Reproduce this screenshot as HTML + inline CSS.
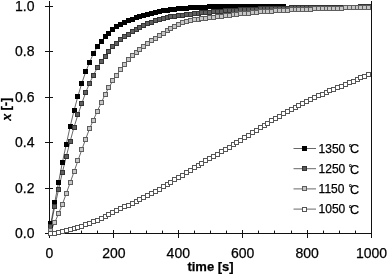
<!DOCTYPE html>
<html><head><meta charset="utf-8"><style>
html,body{margin:0;padding:0;background:#fff;width:387px;height:274px;overflow:hidden}
svg{display:block;will-change:transform}
</style></head><body>
<svg width="387" height="274" viewBox="0 0 387 274">

<g stroke="#111" stroke-width="1" shape-rendering="crispEdges">
<line x1="49.5" y1="1" x2="49.5" y2="234"/>
<line x1="371.5" y1="1" x2="371.5" y2="234"/>
<line x1="45" y1="233.5" x2="372" y2="233.5"/>
<line x1="45" y1="233.5" x2="53" y2="233.5"/>
<line x1="45" y1="188.5" x2="53" y2="188.5"/>
<line x1="45" y1="142.5" x2="53" y2="142.5"/>
<line x1="45" y1="97.5" x2="53" y2="97.5"/>
<line x1="45" y1="51.5" x2="53" y2="51.5"/>
<line x1="45" y1="6.5" x2="53" y2="6.5"/>
</g>
<g stroke="#111" stroke-width="1">
<line x1="49.50" y1="230" x2="49.50" y2="238"/>
<line x1="65.50" y1="230.6" x2="65.50" y2="233"/>
<line x1="81.50" y1="230.6" x2="81.50" y2="233"/>
<line x1="97.50" y1="230.6" x2="97.50" y2="233"/>
<line x1="113.50" y1="230" x2="113.50" y2="238"/>
<line x1="130.50" y1="230.6" x2="130.50" y2="233"/>
<line x1="146.50" y1="230.6" x2="146.50" y2="233"/>
<line x1="162.50" y1="230.6" x2="162.50" y2="233"/>
<line x1="178.50" y1="230" x2="178.50" y2="238"/>
<line x1="194.50" y1="230.6" x2="194.50" y2="233"/>
<line x1="210.50" y1="230.6" x2="210.50" y2="233"/>
<line x1="226.50" y1="230.6" x2="226.50" y2="233"/>
<line x1="242.50" y1="230" x2="242.50" y2="238"/>
<line x1="258.50" y1="230.6" x2="258.50" y2="233"/>
<line x1="274.50" y1="230.6" x2="274.50" y2="233"/>
<line x1="291.50" y1="230.6" x2="291.50" y2="233"/>
<line x1="307.50" y1="230" x2="307.50" y2="238"/>
<line x1="323.50" y1="230.6" x2="323.50" y2="233"/>
<line x1="339.50" y1="230.6" x2="339.50" y2="233"/>
<line x1="355.50" y1="230.6" x2="355.50" y2="233"/>
<line x1="371.50" y1="230" x2="371.50" y2="238"/>
</g>
<polyline points="50.79,223.74 54.66,202.85 58.54,182.43 62.42,162.22 66.30,144.06 70.17,126.58 74.05,110.47 77.93,96.16 81.80,83.23 85.68,71.88 89.56,62.34 93.43,53.49 97.31,46.91 101.19,41.23 105.06,36.69 108.94,33.06 112.82,29.88 116.69,26.93 120.57,24.43 124.45,22.51 128.33,20.84 132.20,19.33 136.08,17.91 139.96,16.54 143.83,15.27 147.71,14.12 151.59,13.15 155.46,12.30 159.34,11.59 163.22,10.98 167.09,10.39 170.97,9.83 174.85,9.32 178.73,8.85 182.60,8.44 186.48,8.10 190.36,7.83 194.23,7.61 198.11,7.40 201.99,7.21 205.86,7.05 209.74,6.91 213.62,6.80 217.49,6.73 221.37,6.68 225.25,6.64 229.12,6.60 233.00,6.56 236.88,6.54 240.76,6.52 244.63,6.50 248.51,6.50 252.39,6.50 256.26,6.50 260.14,6.50 264.02,6.50 267.89,6.50 271.77,6.50 275.65,6.50 279.52,6.50 283.40,6.50" fill="none" stroke="#000" stroke-width="0.6"/>
<g fill="#000" stroke="#000" stroke-width="1"><rect x="48.5" y="221.5" width="4" height="4"/><rect x="52.5" y="200.5" width="4" height="4"/><rect x="56.5" y="180.5" width="4" height="4"/><rect x="60.5" y="160.5" width="4" height="4"/><rect x="64.5" y="142.5" width="4" height="4"/><rect x="68.5" y="124.5" width="4" height="4"/><rect x="72.5" y="108.5" width="4" height="4"/><rect x="75.5" y="94.5" width="4" height="4"/><rect x="79.5" y="81.5" width="4" height="4"/><rect x="83.5" y="69.5" width="4" height="4"/><rect x="87.5" y="60.5" width="4" height="4"/><rect x="91.5" y="51.5" width="4" height="4"/><rect x="95.5" y="44.5" width="4" height="4"/><rect x="99.5" y="39.5" width="4" height="4"/><rect x="103.5" y="34.5" width="4" height="4"/><rect x="106.5" y="31.5" width="4" height="4"/><rect x="110.5" y="27.5" width="4" height="4"/><rect x="114.5" y="24.5" width="4" height="4"/><rect x="118.5" y="22.5" width="4" height="4"/><rect x="122.5" y="20.5" width="4" height="4"/><rect x="126.5" y="18.5" width="4" height="4"/><rect x="130.5" y="17.5" width="4" height="4"/><rect x="134.5" y="15.5" width="4" height="4"/><rect x="137.5" y="14.5" width="4" height="4"/><rect x="141.5" y="13.5" width="4" height="4"/><rect x="145.5" y="12.5" width="4" height="4"/><rect x="149.5" y="11.5" width="4" height="4"/><rect x="153.5" y="10.5" width="4" height="4"/><rect x="157.5" y="9.5" width="4" height="4"/><rect x="161.5" y="8.5" width="4" height="4"/><rect x="165.5" y="8.5" width="4" height="4"/><rect x="168.5" y="7.5" width="4" height="4"/><rect x="172.5" y="7.5" width="4" height="4"/><rect x="176.5" y="6.5" width="4" height="4"/><rect x="180.5" y="6.5" width="4" height="4"/><rect x="184.5" y="6.5" width="4" height="4"/><rect x="188.5" y="5.5" width="4" height="4"/><rect x="192.5" y="5.5" width="4" height="4"/><rect x="196.5" y="5.5" width="4" height="4"/><rect x="199.5" y="5.5" width="4" height="4"/><rect x="203.5" y="5.5" width="4" height="4"/><rect x="207.5" y="4.5" width="4" height="4"/><rect x="211.5" y="4.5" width="4" height="4"/><rect x="215.5" y="4.5" width="4" height="4"/><rect x="219.5" y="4.5" width="4" height="4"/><rect x="223.5" y="4.5" width="4" height="4"/><rect x="227.5" y="4.5" width="4" height="4"/><rect x="231.5" y="4.5" width="4" height="4"/><rect x="234.5" y="4.5" width="4" height="4"/><rect x="238.5" y="4.5" width="4" height="4"/><rect x="242.5" y="4.5" width="4" height="4"/><rect x="246.5" y="4.5" width="4" height="4"/><rect x="250.5" y="4.5" width="4" height="4"/><rect x="254.5" y="4.5" width="4" height="4"/><rect x="258.5" y="4.5" width="4" height="4"/><rect x="262.5" y="4.5" width="4" height="4"/><rect x="265.5" y="4.5" width="4" height="4"/><rect x="269.5" y="4.5" width="4" height="4"/><rect x="273.5" y="4.5" width="4" height="4"/><rect x="277.5" y="4.5" width="4" height="4"/><rect x="281.5" y="4.5" width="4" height="4"/></g>
<polyline points="50.79,226.01 54.66,206.94 58.54,189.69 62.42,172.21 66.30,156.32 70.17,141.34 74.05,127.04 77.93,114.78 81.80,103.43 85.68,92.53 89.56,83.23 93.43,75.05 97.31,67.79 101.19,61.66 105.06,56.21 108.94,51.22 112.82,46.91 116.69,43.05 120.57,39.87 124.45,36.69 128.33,34.19 132.20,31.92 136.08,29.65 139.96,27.61 143.83,25.79 147.71,23.98 151.59,22.39 155.46,20.80 159.34,19.21 163.22,18.30 167.09,17.53 170.97,16.89 174.85,16.33 178.73,15.83 182.60,15.35 186.48,14.87 190.36,14.36 194.23,13.85 198.11,13.36 201.99,12.88 205.86,12.43 209.74,12.02 213.62,11.64 217.49,11.30 221.37,11.00 225.25,10.73 229.12,10.47 233.00,10.23 236.88,10.01 240.76,9.80 244.63,9.60 248.51,9.42 252.39,9.25 256.26,9.08 260.14,8.93 264.02,8.78 267.89,8.64 271.77,8.51 275.65,8.39 279.52,8.28 283.40,8.17 287.28,8.06 291.15,7.96 295.03,7.87 298.91,7.78 302.79,7.71 306.66,7.64 310.54,7.58 314.42,7.52 318.29,7.47 322.17,7.41 326.05,7.35 329.92,7.30 333.80,7.25 337.68,7.20 341.55,7.16 345.43,7.12 349.31,7.08 353.18,7.05 357.06,7.02 360.94,6.99 364.82,6.97 368.69,6.96" fill="none" stroke="#000" stroke-width="0.6"/>
<g fill="#5e5e5e" stroke="#333" stroke-width="1"><rect x="48.5" y="224.5" width="4" height="4"/><rect x="52.5" y="204.5" width="4" height="4"/><rect x="56.5" y="187.5" width="4" height="4"/><rect x="60.5" y="170.5" width="4" height="4"/><rect x="64.5" y="154.5" width="4" height="4"/><rect x="68.5" y="139.5" width="4" height="4"/><rect x="72.5" y="125.5" width="4" height="4"/><rect x="75.5" y="112.5" width="4" height="4"/><rect x="79.5" y="101.5" width="4" height="4"/><rect x="83.5" y="90.5" width="4" height="4"/><rect x="87.5" y="81.5" width="4" height="4"/><rect x="91.5" y="73.5" width="4" height="4"/><rect x="95.5" y="65.5" width="4" height="4"/><rect x="99.5" y="59.5" width="4" height="4"/><rect x="103.5" y="54.5" width="4" height="4"/><rect x="106.5" y="49.5" width="4" height="4"/><rect x="110.5" y="44.5" width="4" height="4"/><rect x="114.5" y="41.5" width="4" height="4"/><rect x="118.5" y="37.5" width="4" height="4"/><rect x="122.5" y="34.5" width="4" height="4"/><rect x="126.5" y="32.5" width="4" height="4"/><rect x="130.5" y="29.5" width="4" height="4"/><rect x="134.5" y="27.5" width="4" height="4"/><rect x="137.5" y="25.5" width="4" height="4"/><rect x="141.5" y="23.5" width="4" height="4"/><rect x="145.5" y="21.5" width="4" height="4"/><rect x="149.5" y="20.5" width="4" height="4"/><rect x="153.5" y="18.5" width="4" height="4"/><rect x="157.5" y="17.5" width="4" height="4"/><rect x="161.5" y="16.5" width="4" height="4"/><rect x="165.5" y="15.5" width="4" height="4"/><rect x="168.5" y="14.5" width="4" height="4"/><rect x="172.5" y="14.5" width="4" height="4"/><rect x="176.5" y="13.5" width="4" height="4"/><rect x="180.5" y="13.5" width="4" height="4"/><rect x="184.5" y="12.5" width="4" height="4"/><rect x="188.5" y="12.5" width="4" height="4"/><rect x="192.5" y="11.5" width="4" height="4"/><rect x="196.5" y="11.5" width="4" height="4"/><rect x="199.5" y="10.5" width="4" height="4"/><rect x="203.5" y="10.5" width="4" height="4"/><rect x="207.5" y="10.5" width="4" height="4"/><rect x="211.5" y="9.5" width="4" height="4"/><rect x="215.5" y="9.5" width="4" height="4"/><rect x="219.5" y="9.5" width="4" height="4"/><rect x="223.5" y="8.5" width="4" height="4"/><rect x="227.5" y="8.5" width="4" height="4"/><rect x="231.5" y="8.5" width="4" height="4"/><rect x="234.5" y="8.5" width="4" height="4"/><rect x="238.5" y="7.5" width="4" height="4"/><rect x="242.5" y="7.5" width="4" height="4"/><rect x="246.5" y="7.5" width="4" height="4"/><rect x="250.5" y="7.5" width="4" height="4"/><rect x="254.5" y="7.5" width="4" height="4"/><rect x="258.5" y="6.5" width="4" height="4"/><rect x="262.5" y="6.5" width="4" height="4"/><rect x="265.5" y="6.5" width="4" height="4"/><rect x="269.5" y="6.5" width="4" height="4"/><rect x="273.5" y="6.5" width="4" height="4"/><rect x="277.5" y="6.5" width="4" height="4"/><rect x="281.5" y="6.5" width="4" height="4"/><rect x="285.5" y="6.5" width="4" height="4"/><rect x="289.5" y="5.5" width="4" height="4"/><rect x="293.5" y="5.5" width="4" height="4"/><rect x="296.5" y="5.5" width="4" height="4"/><rect x="300.5" y="5.5" width="4" height="4"/><rect x="304.5" y="5.5" width="4" height="4"/><rect x="308.5" y="5.5" width="4" height="4"/><rect x="312.5" y="5.5" width="4" height="4"/><rect x="316.5" y="5.5" width="4" height="4"/><rect x="320.5" y="5.5" width="4" height="4"/><rect x="324.5" y="5.5" width="4" height="4"/><rect x="327.5" y="5.5" width="4" height="4"/><rect x="331.5" y="5.5" width="4" height="4"/><rect x="335.5" y="5.5" width="4" height="4"/><rect x="339.5" y="5.5" width="4" height="4"/><rect x="343.5" y="5.5" width="4" height="4"/><rect x="347.5" y="5.5" width="4" height="4"/><rect x="351.5" y="5.5" width="4" height="4"/><rect x="355.5" y="5.5" width="4" height="4"/><rect x="358.5" y="4.5" width="4" height="4"/><rect x="362.5" y="4.5" width="4" height="4"/><rect x="366.5" y="4.5" width="4" height="4"/></g>
<polyline points="50.79,230.78 54.66,222.60 58.54,213.75 62.42,204.22 66.30,193.32 70.17,182.65 74.05,171.76 77.93,160.63 81.80,149.74 85.68,139.07 89.56,128.63 93.43,120.00 97.31,111.15 101.19,102.75 105.06,94.70 108.94,87.31 112.82,80.96 116.69,75.05 120.57,69.43 124.45,64.04 128.33,59.16 132.20,55.08 136.08,52.13 139.96,49.18 143.83,46.23 147.71,43.27 151.59,40.55 155.46,38.05 159.34,35.56 163.22,33.27 167.09,30.95 170.97,28.69 174.85,26.55 178.73,24.61 182.60,22.96 186.48,21.65 190.36,20.70 194.23,19.90 198.11,19.21 201.99,18.60 205.86,18.05 209.74,17.54 213.62,17.04 217.49,16.54 221.37,16.04 225.25,15.55 229.12,15.08 233.00,14.63 236.88,14.20 240.76,13.79 244.63,13.40 248.51,13.02 252.39,12.65 256.26,12.29 260.14,11.94 264.02,11.61 267.89,11.30 271.77,11.01 275.65,10.74 279.52,10.50 283.40,10.28 287.28,10.08 291.15,9.89 295.03,9.71 298.91,9.54 302.79,9.39 306.66,9.24 310.54,9.10 314.42,8.96 318.29,8.82 322.17,8.69 326.05,8.56 329.92,8.43 333.80,8.31 337.68,8.19 341.55,8.08 345.43,7.97 349.31,7.87 353.18,7.77 357.06,7.68 360.94,7.60 364.82,7.52 368.69,7.45" fill="none" stroke="#000" stroke-width="0.6"/>
<g fill="#c6c6c6" stroke="#5e5e5e" stroke-width="1"><rect x="48.5" y="228.5" width="4" height="4"/><rect x="52.5" y="220.5" width="4" height="4"/><rect x="56.5" y="211.5" width="4" height="4"/><rect x="60.5" y="202.5" width="4" height="4"/><rect x="64.5" y="191.5" width="4" height="4"/><rect x="68.5" y="180.5" width="4" height="4"/><rect x="72.5" y="169.5" width="4" height="4"/><rect x="75.5" y="158.5" width="4" height="4"/><rect x="79.5" y="147.5" width="4" height="4"/><rect x="83.5" y="137.5" width="4" height="4"/><rect x="87.5" y="126.5" width="4" height="4"/><rect x="91.5" y="118.5" width="4" height="4"/><rect x="95.5" y="109.5" width="4" height="4"/><rect x="99.5" y="100.5" width="4" height="4"/><rect x="103.5" y="92.5" width="4" height="4"/><rect x="106.5" y="85.5" width="4" height="4"/><rect x="110.5" y="78.5" width="4" height="4"/><rect x="114.5" y="73.5" width="4" height="4"/><rect x="118.5" y="67.5" width="4" height="4"/><rect x="122.5" y="62.5" width="4" height="4"/><rect x="126.5" y="57.5" width="4" height="4"/><rect x="130.5" y="53.5" width="4" height="4"/><rect x="134.5" y="50.5" width="4" height="4"/><rect x="137.5" y="47.5" width="4" height="4"/><rect x="141.5" y="44.5" width="4" height="4"/><rect x="145.5" y="41.5" width="4" height="4"/><rect x="149.5" y="38.5" width="4" height="4"/><rect x="153.5" y="36.5" width="4" height="4"/><rect x="157.5" y="33.5" width="4" height="4"/><rect x="161.5" y="31.5" width="4" height="4"/><rect x="165.5" y="28.5" width="4" height="4"/><rect x="168.5" y="26.5" width="4" height="4"/><rect x="172.5" y="24.5" width="4" height="4"/><rect x="176.5" y="22.5" width="4" height="4"/><rect x="180.5" y="20.5" width="4" height="4"/><rect x="184.5" y="19.5" width="4" height="4"/><rect x="188.5" y="18.5" width="4" height="4"/><rect x="192.5" y="17.5" width="4" height="4"/><rect x="196.5" y="17.5" width="4" height="4"/><rect x="199.5" y="16.5" width="4" height="4"/><rect x="203.5" y="16.5" width="4" height="4"/><rect x="207.5" y="15.5" width="4" height="4"/><rect x="211.5" y="15.5" width="4" height="4"/><rect x="215.5" y="14.5" width="4" height="4"/><rect x="219.5" y="14.5" width="4" height="4"/><rect x="223.5" y="13.5" width="4" height="4"/><rect x="227.5" y="13.5" width="4" height="4"/><rect x="231.5" y="12.5" width="4" height="4"/><rect x="234.5" y="12.5" width="4" height="4"/><rect x="238.5" y="11.5" width="4" height="4"/><rect x="242.5" y="11.5" width="4" height="4"/><rect x="246.5" y="11.5" width="4" height="4"/><rect x="250.5" y="10.5" width="4" height="4"/><rect x="254.5" y="10.5" width="4" height="4"/><rect x="258.5" y="9.5" width="4" height="4"/><rect x="262.5" y="9.5" width="4" height="4"/><rect x="265.5" y="9.5" width="4" height="4"/><rect x="269.5" y="9.5" width="4" height="4"/><rect x="273.5" y="8.5" width="4" height="4"/><rect x="277.5" y="8.5" width="4" height="4"/><rect x="281.5" y="8.5" width="4" height="4"/><rect x="285.5" y="8.5" width="4" height="4"/><rect x="289.5" y="7.5" width="4" height="4"/><rect x="293.5" y="7.5" width="4" height="4"/><rect x="296.5" y="7.5" width="4" height="4"/><rect x="300.5" y="7.5" width="4" height="4"/><rect x="304.5" y="7.5" width="4" height="4"/><rect x="308.5" y="7.5" width="4" height="4"/><rect x="312.5" y="6.5" width="4" height="4"/><rect x="316.5" y="6.5" width="4" height="4"/><rect x="320.5" y="6.5" width="4" height="4"/><rect x="324.5" y="6.5" width="4" height="4"/><rect x="327.5" y="6.5" width="4" height="4"/><rect x="331.5" y="6.5" width="4" height="4"/><rect x="335.5" y="6.5" width="4" height="4"/><rect x="339.5" y="6.5" width="4" height="4"/><rect x="343.5" y="5.5" width="4" height="4"/><rect x="347.5" y="5.5" width="4" height="4"/><rect x="351.5" y="5.5" width="4" height="4"/><rect x="355.5" y="5.5" width="4" height="4"/><rect x="358.5" y="5.5" width="4" height="4"/><rect x="362.5" y="5.5" width="4" height="4"/><rect x="366.5" y="5.5" width="4" height="4"/></g>
<polyline points="50.79,233.76 54.66,233.10 58.54,232.34 62.42,231.48 66.30,230.54 70.17,229.52 74.05,228.44 77.93,227.32 81.80,226.14 85.68,224.85 89.56,223.38 93.43,221.80 97.31,220.14 101.19,218.44 105.06,216.63 108.94,214.71 112.82,212.74 116.69,210.77 120.57,208.83 124.45,206.92 128.33,205.01 132.20,203.10 136.08,201.19 139.96,199.25 143.83,197.30 147.71,195.32 151.59,193.30 155.46,191.23 159.34,189.12 163.22,186.93 167.09,184.66 170.97,182.32 174.85,179.93 178.73,177.51 182.60,175.06 186.48,172.61 190.36,170.17 194.23,167.77 198.11,165.40 201.99,163.09 205.86,160.83 209.74,158.59 213.62,156.36 217.49,154.13 221.37,151.87 225.25,149.58 229.12,147.25 233.00,144.89 236.88,142.51 240.76,140.12 244.63,137.73 248.51,135.32 252.39,132.88 256.26,130.42 260.14,127.96 264.02,125.51 267.89,123.09 271.77,120.72 275.65,118.41 279.52,116.17 283.40,113.96 287.28,111.78 291.15,109.63 295.03,107.50 298.91,105.42 302.79,103.38 306.66,101.39 310.54,99.46 314.42,97.59 318.29,95.78 322.17,94.06 326.05,92.41 329.92,90.81 333.80,89.24 337.68,87.69 341.55,86.14 345.43,84.57 349.31,82.97 353.18,81.32 357.06,79.61 360.94,77.87 364.82,76.10 368.69,74.32" fill="none" stroke="#000" stroke-width="0.6"/>
<g fill="#fff" stroke="#555" stroke-width="1"><rect x="48.5" y="231.5" width="4" height="4"/><rect x="52.5" y="231.5" width="4" height="4"/><rect x="56.5" y="230.5" width="4" height="4"/><rect x="60.5" y="229.5" width="4" height="4"/><rect x="64.5" y="228.5" width="4" height="4"/><rect x="68.5" y="227.5" width="4" height="4"/><rect x="72.5" y="226.5" width="4" height="4"/><rect x="75.5" y="225.5" width="4" height="4"/><rect x="79.5" y="224.5" width="4" height="4"/><rect x="83.5" y="222.5" width="4" height="4"/><rect x="87.5" y="221.5" width="4" height="4"/><rect x="91.5" y="219.5" width="4" height="4"/><rect x="95.5" y="218.5" width="4" height="4"/><rect x="99.5" y="216.5" width="4" height="4"/><rect x="103.5" y="214.5" width="4" height="4"/><rect x="106.5" y="212.5" width="4" height="4"/><rect x="110.5" y="210.5" width="4" height="4"/><rect x="114.5" y="208.5" width="4" height="4"/><rect x="118.5" y="206.5" width="4" height="4"/><rect x="122.5" y="204.5" width="4" height="4"/><rect x="126.5" y="203.5" width="4" height="4"/><rect x="130.5" y="201.5" width="4" height="4"/><rect x="134.5" y="199.5" width="4" height="4"/><rect x="137.5" y="197.5" width="4" height="4"/><rect x="141.5" y="195.5" width="4" height="4"/><rect x="145.5" y="193.5" width="4" height="4"/><rect x="149.5" y="191.5" width="4" height="4"/><rect x="153.5" y="189.5" width="4" height="4"/><rect x="157.5" y="187.5" width="4" height="4"/><rect x="161.5" y="184.5" width="4" height="4"/><rect x="165.5" y="182.5" width="4" height="4"/><rect x="168.5" y="180.5" width="4" height="4"/><rect x="172.5" y="177.5" width="4" height="4"/><rect x="176.5" y="175.5" width="4" height="4"/><rect x="180.5" y="173.5" width="4" height="4"/><rect x="184.5" y="170.5" width="4" height="4"/><rect x="188.5" y="168.5" width="4" height="4"/><rect x="192.5" y="165.5" width="4" height="4"/><rect x="196.5" y="163.5" width="4" height="4"/><rect x="199.5" y="161.5" width="4" height="4"/><rect x="203.5" y="158.5" width="4" height="4"/><rect x="207.5" y="156.5" width="4" height="4"/><rect x="211.5" y="154.5" width="4" height="4"/><rect x="215.5" y="152.5" width="4" height="4"/><rect x="219.5" y="149.5" width="4" height="4"/><rect x="223.5" y="147.5" width="4" height="4"/><rect x="227.5" y="145.5" width="4" height="4"/><rect x="231.5" y="142.5" width="4" height="4"/><rect x="234.5" y="140.5" width="4" height="4"/><rect x="238.5" y="138.5" width="4" height="4"/><rect x="242.5" y="135.5" width="4" height="4"/><rect x="246.5" y="133.5" width="4" height="4"/><rect x="250.5" y="130.5" width="4" height="4"/><rect x="254.5" y="128.5" width="4" height="4"/><rect x="258.5" y="125.5" width="4" height="4"/><rect x="262.5" y="123.5" width="4" height="4"/><rect x="265.5" y="121.5" width="4" height="4"/><rect x="269.5" y="118.5" width="4" height="4"/><rect x="273.5" y="116.5" width="4" height="4"/><rect x="277.5" y="114.5" width="4" height="4"/><rect x="281.5" y="111.5" width="4" height="4"/><rect x="285.5" y="109.5" width="4" height="4"/><rect x="289.5" y="107.5" width="4" height="4"/><rect x="293.5" y="105.5" width="4" height="4"/><rect x="296.5" y="103.5" width="4" height="4"/><rect x="300.5" y="101.5" width="4" height="4"/><rect x="304.5" y="99.5" width="4" height="4"/><rect x="308.5" y="97.5" width="4" height="4"/><rect x="312.5" y="95.5" width="4" height="4"/><rect x="316.5" y="93.5" width="4" height="4"/><rect x="320.5" y="92.5" width="4" height="4"/><rect x="324.5" y="90.5" width="4" height="4"/><rect x="327.5" y="88.5" width="4" height="4"/><rect x="331.5" y="87.5" width="4" height="4"/><rect x="335.5" y="85.5" width="4" height="4"/><rect x="339.5" y="84.5" width="4" height="4"/><rect x="343.5" y="82.5" width="4" height="4"/><rect x="347.5" y="80.5" width="4" height="4"/><rect x="351.5" y="79.5" width="4" height="4"/><rect x="355.5" y="77.5" width="4" height="4"/><rect x="358.5" y="75.5" width="4" height="4"/><rect x="362.5" y="74.5" width="4" height="4"/><rect x="366.5" y="72.5" width="4" height="4"/></g>
<g font-family="Liberation Sans, sans-serif" font-size="14" fill="#000" stroke="#000" stroke-width="0.25" text-anchor="end">
<text x="34.5" y="238.0">0.0</text>
<text x="34.5" y="192.6">0.2</text>
<text x="34.5" y="147.2">0.4</text>
<text x="34.5" y="101.8">0.6</text>
<text x="34.5" y="56.4">0.8</text>
<text x="34.5" y="11.0">1.0</text>
</g>
<g font-family="Liberation Sans, sans-serif" font-size="14" fill="#000" stroke="#000" stroke-width="0.25" text-anchor="middle">
<text x="49.5" y="258.3">0</text>
<text x="113.9" y="258.3">200</text>
<text x="178.3" y="258.3">400</text>
<text x="242.7" y="258.3">600</text>
<text x="307.1" y="258.3">800</text>
<text x="371.5" y="258.3">1000</text>
</g>
<text x="210.5" y="270.5" font-family="Liberation Sans, sans-serif" font-size="13" font-weight="bold" text-anchor="middle" stroke="#000" stroke-width="0.25">time [s]</text>
<text transform="translate(10.4,120.7) rotate(-90)" font-size="13" font-weight="bold" font-family="Liberation Sans, sans-serif" stroke="#000" stroke-width="0.25"><tspan font-family="Liberation Serif, serif" font-style="italic" font-size="14.5" dy="0.3">x</tspan><tspan dx="-0.7" dy="-0.3"> [-]</tspan></text>
<line x1="293.5" y1="148.5" x2="316" y2="148.5" stroke="#000" stroke-width="0.6"/>
<rect x="302.5" y="146.5" width="4" height="4" fill="#000" stroke="#000" stroke-width="1"/>
<line x1="293.5" y1="168.7" x2="316" y2="168.7" stroke="#000" stroke-width="0.6"/>
<rect x="302.5" y="166.5" width="4" height="4" fill="#5a5a5a" stroke="#333" stroke-width="1"/>
<line x1="293.5" y1="188.9" x2="316" y2="188.9" stroke="#000" stroke-width="0.6"/>
<rect x="302.5" y="186.5" width="4" height="4" fill="#c6c6c6" stroke="#5e5e5e" stroke-width="1"/>
<line x1="293.5" y1="209.1" x2="316" y2="209.1" stroke="#000" stroke-width="0.6"/>
<rect x="302.5" y="207.5" width="4" height="4" fill="#fff" stroke="#555" stroke-width="1"/>
<g font-family="Liberation Sans, sans-serif" fill="#000" stroke="#000" stroke-width="0.25">
<text x="318.6" y="152.6" font-size="12">1350</text>
<text x="349.9" y="153.4" font-size="12.6">C</text>
<text x="348.5" y="150.9" font-size="9">°</text>
<text x="318.6" y="172.8" font-size="12">1250</text>
<text x="349.9" y="173.6" font-size="12.6">C</text>
<text x="348.5" y="171.1" font-size="9">°</text>
<text x="318.6" y="193.0" font-size="12">1150</text>
<text x="349.9" y="193.8" font-size="12.6">C</text>
<text x="348.5" y="191.3" font-size="9">°</text>
<text x="318.6" y="213.2" font-size="12">1050</text>
<text x="349.9" y="214.0" font-size="12.6">C</text>
<text x="348.5" y="211.5" font-size="9">°</text>
</g>
</svg>
</body></html>
